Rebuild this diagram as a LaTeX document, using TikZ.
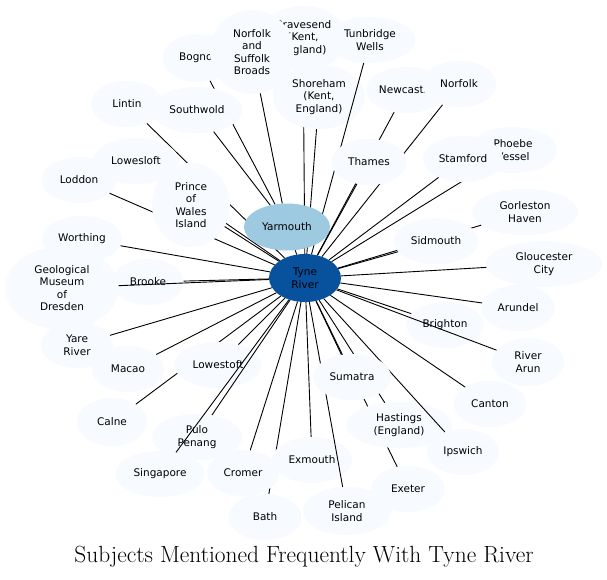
\documentclass[tikz,border=0pt]{standalone}
\usepackage{fontspec}
\newfontfamily\nodefont{DejaVu Sans}
\usetikzlibrary{shapes.geometric}
\definecolor{leaf}{HTML}{F7FBFF}
\definecolor{midblue}{HTML}{9ECAE1}
\definecolor{deepblue}{HTML}{08519C}
\begin{document}
\begin{tikzpicture}[x=1pt,y=-1pt,
  place/.style={ellipse, fill=leaf, inner sep=0pt, align=center,
    font=\nodefont\fontsize{10.5}{12.5}\selectfont, minimum height=46pt},
  link/.style={draw=black, line width=0.9pt},
  titletext/.style={font=\fontsize{23.4}{27}\selectfont, inner sep=0pt}
]
\useasboundingbox (0,0) rectangle (607,579);
\fill[white] (0,0) rectangle (607,579);

% centre
\node[place, fill=deepblue, minimum width=72pt, minimum height=48pt] (tyne) at (305,278) {Tyne\\River};

% upper left
\node[place, minimum width=72pt] (lintin) at (127,104) {Lintin};
\draw[link] (lintin) -- (tyne);
\node[place, minimum width=74pt] (loddon) at (79,180) {Loddon};
\draw[link] (loddon) -- (tyne);
\node[place, minimum width=86pt] (lowesloft) at (136,161) {Lowesloft};
\draw[link] (lowesloft) -- (tyne);
\node[place, minimum width=78pt, minimum height=84pt] (pwi) at (191,205) {Prince\\of\\Wales\\Island};
\draw[link] (pwi) -- (tyne);

% upper middle
\node[place, minimum width=88pt, minimum height=64pt] (gravesend) at (303,38) {Gravesend\\(Kent,\\England)};
\draw[link] (gravesend) -- (tyne);
\node[place, minimum width=92pt, minimum height=64pt] (shoreham) at (319,97) {Shoreham\\(Kent,\\England)};
\draw[link] (shoreham) -- (tyne);
\node[place, minimum width=91pt] (tunbridge) at (370,40) {Tunbridge\\Wells};
\draw[link] (tunbridge) -- (tyne);

\node[place, fill=midblue, minimum width=86pt, minimum height=47pt] (yarmouth) at (287,227) {Yarmouth};
\draw[link] (yarmouth) -- (tyne);

\node[place, minimum width=70pt, minimum height=48pt] (bognor) at (198,58) {Bognor};
\draw[link] (bognor) -- (yarmouth);
\node[place, minimum width=84pt, minimum height=84pt] (broads) at (252,52) {Norfolk\\and\\Suffolk\\Broads};
\draw[link] (broads) -- (yarmouth);
\node[place, minimum width=91pt] (southwold) at (197,110) {Southwold};
\draw[link] (southwold) -- (yarmouth);

% upper right
\node[place, minimum width=80pt] (newcastle) at (406,90) {Newcastle};
\draw[link] (newcastle) -- (tyne);
\node[place, minimum width=74pt] (norfolk) at (459,84) {Norfolk};
\draw[link] (norfolk) -- (tyne);
\node[place, minimum width=75pt] (thames) at (369,162) {Thames};
\draw[link] (thames) -- (tyne);
\node[place, minimum width=88pt] (phoebe) at (513,150) {Phoebe\\Vessel};
\draw[link] (phoebe) -- (tyne);
\node[place, minimum width=80pt] (stamford) at (463,159) {Stamford};
\draw[link] (stamford) -- (tyne);
\node[place, minimum width=106pt] (gorleston) at (525,212) {Gorleston\\Haven};
\draw[link] (gorleston) -- (tyne);
\node[place, minimum width=85pt] (sidmouth) at (436,241) {Sidmouth};
\draw[link] (sidmouth) -- (tyne);
\node[place, minimum width=116pt] (gloucester) at (544,264) {Gloucester\\City};
\draw[link] (gloucester) -- (tyne);

% left
\node[place, minimum width=80pt] (worthing) at (82,239) {Worthing};
\draw[link] (worthing) -- (tyne);
\node[place, minimum width=71pt] (brooke) at (148,282) {Brooke};
\draw[link] (brooke) -- (tyne);
\node[place, minimum width=113pt, minimum height=83pt] (geomuseum) at (62,288) {Geological\\Museum\\of\\Dresden};
\draw[link] (geomuseum) -- (tyne);
\node[place, minimum width=72pt] (yare) at (77,345) {Yare\\River};
\draw[link] (yare) -- (tyne);
\node[place, minimum width=72pt] (macao) at (128,369) {Macao};
\draw[link] (macao) -- (tyne);

% lower left
\node[place, minimum width=70pt, minimum height=48pt] (calne) at (112,422) {Calne};
\draw[link] (calne) -- (tyne);
\node[place, minimum width=87pt] (lowestoft) at (218,365) {Lowestoft};
\draw[link] (lowestoft) -- (tyne);
\node[place, minimum width=90pt] (pulo) at (197,437) {Pulo\\Penang};
\draw[link] (pulo) -- (tyne);
\node[place, minimum width=89pt] (singapore) at (160,474) {Singapore};
\draw[link] (singapore) -- (tyne);
\node[place, minimum width=73pt] (bath) at (265,517) {Bath};
\draw[link] (bath) -- (tyne);
\node[place, minimum width=72pt] (cromer) at (243,473) {Cromer};
\draw[link] (cromer) -- (tyne);

% lower middle
\node[place, minimum width=80pt] (exmouth) at (312,460) {Exmouth};
\draw[link] (exmouth) -- (tyne);
\node[place, minimum width=88pt, minimum height=48pt] (pelican) at (347,511) {Pelican\\Island};
\draw[link] (pelican) -- (tyne);
\node[place, minimum width=73pt] (exeter) at (408,489) {Exeter};
\draw[link] (exeter) -- (tyne);
\node[place, minimum width=106pt] (hastings) at (399,425) {Hastings\\(England)};
\draw[link] (hastings) -- (tyne);
\node[place, minimum width=72pt] (ipswich) at (463,452) {Ipswich};
\draw[link] (ipswich) -- (tyne);
\node[place, minimum width=78pt] (sumatra) at (352,377) {Sumatra};
\draw[link] (sumatra) -- (tyne);

% lower right
\node[place, minimum width=73pt] (arundel) at (518,308) {Arundel};
\draw[link] (arundel) -- (tyne);
\node[place, minimum width=77pt] (brighton) at (445,325) {Brighton};
\draw[link] (brighton) -- (tyne);
\node[place, minimum width=72pt, minimum height=48pt] (riverarun) at (528,362) {River\\Arun};
\draw[link] (riverarun) -- (tyne);
\node[place, minimum width=72pt] (canton) at (490,404) {Canton};
\draw[link] (canton) -- (tyne);

\node[titletext] (title) at (304,557) {Subjects Mentioned Frequently With Tyne River};
\end{tikzpicture}
\end{document}
